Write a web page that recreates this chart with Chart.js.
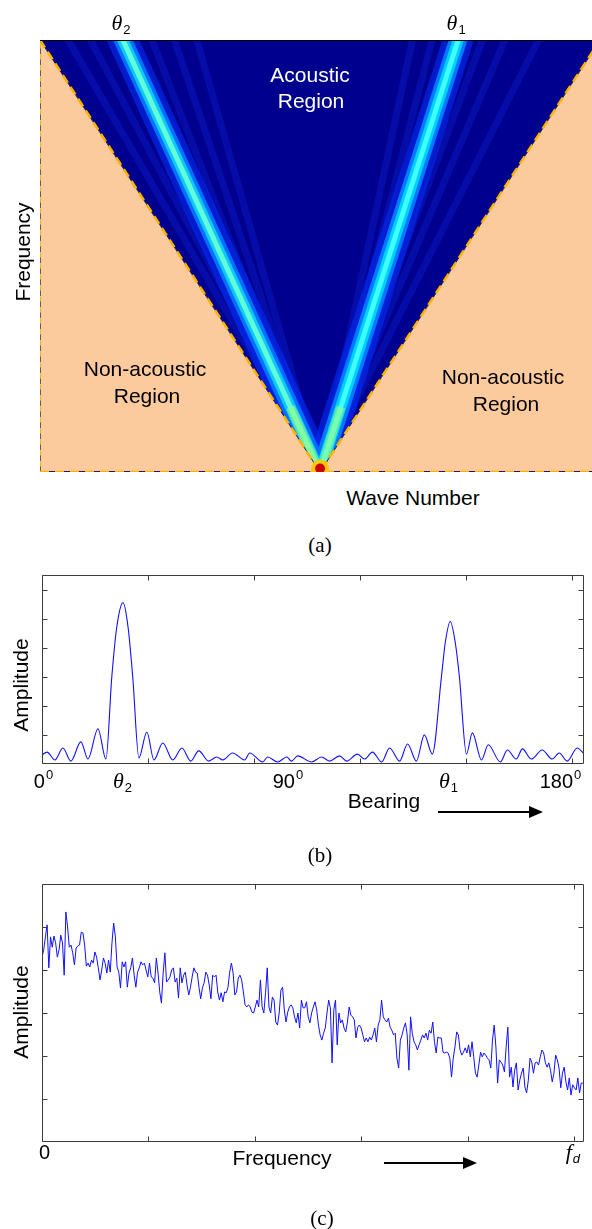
<!DOCTYPE html>
<html lang="en">
<head>
<meta charset="utf-8">
<title>Acoustic region, bearing and spectrum</title>
<script src="https://cdn.jsdelivr.net/npm/chart.js@4.4.1/dist/chart.umd.min.js"></script>
<style>
  html, body { margin: 0; padding: 0; background: #fff; }
  #figura { position: relative; width: 592px; height: 1229px; overflow: hidden;
    font-family: "Liberation Sans", Arial, sans-serif; color: #000; }
  canvas { position: absolute; left: 0; }
  .texto { position: absolute; font-size: 21px; line-height: 1; white-space: nowrap; transform: translate(-50%, -50%); }
  .blanco { color: #fff; }
  .vertical { transform: translate(-50%, -50%) rotate(-90deg); }
  .leyenda { font-family: "Liberation Serif", "Times New Roman", serif; }
  .flecha { position: absolute; height: 2px; background: #000; }
  .flecha::after { content: ""; position: absolute; left: 100%; top: -5px;
    border-left: 14px solid #000; border-top: 6px solid transparent; border-bottom: 6px solid transparent; }
</style>
</head>
<body>
<div id="figura">
  <canvas id="grafico-a" width="592" height="480" style="top:0"></canvas>
  <canvas id="grafico-b" width="592" height="235" style="top:560px"></canvas>
  <canvas id="grafico-c" width="592" height="330" style="top:860px"></canvas>

  <div class="texto blanco" style="left:310px;top:74px">Acoustic</div>
  <div class="texto blanco" style="left:311px;top:100px">Region</div>
  <div class="texto" style="left:145px;top:368px">Non-acoustic</div>
  <div class="texto" style="left:147px;top:395px">Region</div>
  <div class="texto" style="left:503px;top:376px">Non-acoustic</div>
  <div class="texto" style="left:506px;top:403px">Region</div>
  <div class="texto" style="left:413px;top:497px">Wave Number</div>
  <div class="texto vertical" style="left:22px;top:252px">Frequency</div>
  <div class="texto leyenda" style="left:320px;top:545px">(a)</div>

  <div class="texto vertical" style="left:20px;top:685px">Amplitude</div>
  <div class="texto" style="left:384px;top:800px">Bearing</div>
  <div class="flecha" style="left:438px;top:811px;width:91px"></div>
  <div class="texto leyenda" style="left:320px;top:855px">(b)</div>

  <div class="texto vertical" style="left:20px;top:1012px">Amplitude</div>
  <div class="texto" style="left:282px;top:1157px">Frequency</div>
  <div class="flecha" style="left:384px;top:1162px;width:79px"></div>
  <div class="texto leyenda" style="left:322px;top:1218px">(c)</div>
</div>

<script>
// --- (a) plano frecuencia / numero de onda ---
var conoK = [-1, 0, 1];
var conoF = [1, 0, 1];
var kMax = 0.971;
var hacesK = [-0.704, 0.493];           // numero de onda del haz en f = 1
var hacesEtiqueta = ['θ_2', 'θ_1'];
var lobulosK = [-0.90, -0.82, -0.60, -0.52, -0.44, 0.33, 0.40, 0.58, 0.66, 0.78];
var bordeIzqK = [-1, -1];
var bordeIzqF = [0, 1];
var bordeInfK = [-1, kMax];
var bordeInfF = [0, 0];
var bordeSupF = [1, 1];

// --- (b) patron de haz ---
var rumboGrados = [0, 1.7, 4.4, 7.1, 9.8, 13.2, 15.6, 19.0, 21.7, 23.7, 25.4, 27.5, 29.2, 30.8, 32.9,
  35.6, 38.0, 41.0, 44.4, 47.5, 50.5, 53.2, 56.6, 59.3, 61.4, 64.7, 68.8, 70.5, 74.9, 76.6,
  80.0, 83.1, 84.7, 86.8, 91.5, 94.9, 97.6, 101.0, 103.4, 107.1, 109.5, 112.2, 115.3, 118.0, 121.4,
  124.1, 127.1, 129.8, 132.5, 135.6, 136.9, 138.6, 140.3, 141.7, 144.1, 146.1, 149.2, 151.5, 155.6,
  158.0, 161.0, 163.1, 166.1, 169.8, 173.2, 175.6, 178.3, 181.7, 184.1];
var rumboAmplitud = [0.31, 0.41, 0.14, 0.55, 0.10, 0.76, 0.17, 1.21, 0.17, 3.00, 4.72, 5.55, 4.72, 3.00, 0.21,
  1.10, 0.14, 0.72, 0.14, 0.55, 0.10, 0.45, 0.10, 0.24, 0.14, 0.38, 0.14, 0.38, 0.07, 0.24,
  0.07, 0.24, 0.10, 0.28, 0.07, 0.24, 0.10, 0.28, 0.10, 0.34, 0.17, 0.41, 0.07, 0.55, 0.10,
  0.69, 0.10, 1.00, 0.34, 3.00, 4.17, 4.90, 4.17, 3.00, 0.34, 1.07, 0.14, 0.66, 0.07,
  0.48, 0.17, 0.52, 0.17, 0.48, 0.17, 0.38, 0.10, 0.55, 0.34];
var rumboTicks = [0, 36, 72, 108, 144, 180];
var rumboAmpTicks = [1, 2, 3, 4, 5, 6];
var rumboEtiquetas = ['0^0', 'θ_2', '90^0', 'θ_1', '180^0'];
var rumboPosEtiquetas = [0.5, 27.3, 83.5, 138, 176];

// --- (c) espectro ---
var espectroAmplitud = [
  4.30, 4.47, 4.77, 5.05, 4.05, 4.77, 4.53, 4.79, 4.63, 4.30,
  4.47, 4.81, 4.63, 3.88, 5.35, 5.00, 4.53, 4.58, 4.40, 4.12,
  4.51, 4.56, 4.58, 4.88, 4.86, 4.58, 4.09, 4.16, 4.07, 4.23,
  4.16, 4.42, 4.30, 4.05, 3.77, 4.00, 4.28, 4.16, 3.93, 4.23,
  3.95, 4.63, 5.09, 4.77, 4.07, 3.95, 3.58, 4.19, 4.07, 4.19,
  3.60, 3.93, 4.05, 4.28, 3.88, 3.60, 3.95, 4.05, 4.19, 4.12,
  4.16, 4.00, 3.84, 4.16, 3.84, 3.81, 3.70, 4.28, 3.93, 3.49,
  3.23, 3.93, 4.40, 3.72, 3.77, 3.84, 4.00, 4.05, 3.72, 3.81,
  3.35, 4.05, 3.70, 3.88, 3.95, 3.65, 3.42, 3.60, 3.84, 4.05,
  3.95, 3.93, 3.60, 3.33, 3.58, 3.70, 3.95, 3.88, 3.65, 3.33,
  3.88, 3.84, 3.88, 3.49, 3.30, 3.47, 3.26, 3.49, 3.47, 3.60,
  3.95, 4.16, 3.93, 3.42, 3.49, 3.81, 3.88, 3.77, 3.49, 3.19,
  3.14, 3.19, 3.14, 3.02, 3.00, 3.14, 3.30, 3.14, 3.77, 3.14,
  3.00, 3.47, 4.05, 3.14, 3.00, 3.37, 3.30, 2.79, 2.72, 3.00,
  3.53, 3.60, 3.07, 2.79, 3.02, 3.14, 3.19, 3.12, 2.91, 2.77,
  3.00, 2.65, 3.30, 3.12, 3.12, 3.26, 2.91, 2.77, 3.00, 3.14,
  3.26, 3.07, 2.72, 2.49, 2.37, 2.53, 2.65, 3.00, 3.30, 3.12,
  1.84, 3.07, 3.30, 2.26, 3.00, 2.77, 2.84, 2.65, 2.56, 2.79,
  3.14, 2.95, 2.91, 2.84, 2.42, 2.67, 2.72, 2.65, 2.49, 2.33,
  2.42, 2.33, 2.44, 2.37, 2.49, 2.65, 2.33, 2.72, 2.84, 3.30,
  2.91, 2.84, 2.79, 2.88, 2.67, 2.60, 2.49, 2.53, 1.95, 1.72,
  2.37, 2.49, 2.65, 2.77, 2.49, 1.67, 2.91, 2.53, 2.33, 2.26,
  2.14, 2.26, 2.37, 2.49, 2.42, 2.53, 2.37, 2.60, 2.53, 2.79,
  2.33, 2.07, 2.44, 2.42, 2.42, 2.09, 2.07, 2.09, 2.07, 1.95,
  1.51, 1.95, 2.21, 2.56, 2.49, 2.14, 2.02, 2.09, 2.19, 2.07,
  2.26, 1.98, 2.33, 1.98, 1.60, 1.51, 1.79, 2.09, 1.98, 2.07,
  2.02, 1.95, 1.91, 1.72, 2.37, 2.72, 2.21, 1.37, 1.91, 1.86,
  1.79, 1.63, 2.21, 2.67, 1.51, 1.74, 1.28, 1.67, 1.84, 1.21,
  1.44, 1.60, 1.72, 1.28, 1.14, 1.44, 1.95, 1.86, 1.60, 1.84,
  1.86, 1.79, 1.98, 2.14, 2.07, 1.84, 1.74, 1.84, 1.67, 1.40,
  1.60, 2.02, 1.91, 1.72, 1.26, 1.60, 1.74, 1.40, 1.21, 1.49,
  1.09, 1.33, 1.26, 1.21, 1.49, 1.14, 1.37, 1.37];
var espectroFrecFinal = 1.017;          // frecuencia del ultimo bin (f_d = 1)
var frecuenciaTicks = [0, 0.2, 0.4, 0.6, 0.8, 1.0];
var espectroAmpTicks = [1, 2, 3, 4, 5];
var frecuenciaEtiquetas = ['0', 'f_d'];
var frecuenciaPosEtiquetas = [0.005, 0.998];

function serie_(xs, ys) {
  return xs.map(function (x, i) { return { x: x, y: ys[i] }; });
}

// rayo desde el origen del cono hasta el numero de onda k (dado en f = 1)
function rayo_(k, f) {
  var fin = f || 1.06;
  return [{ x: 0, y: 0 }, { x: k * fin, y: fin }];
}

function dibujarEtiqueta_(ctx, texto, x, y, tamano) {
  var m = texto.match(/^([^\^_]+)([\^_]?)(.*)$/);
  var base = m[1], modo = m[2], extra = m[3];
  var griego = /[θf]/.test(base);
  var tamBase = griego ? tamano + 2 : tamano;
  var fuenteBase = griego ? 'italic ' + tamBase + 'px "Liberation Serif", serif'
                          : tamBase + 'px "Liberation Sans", Arial, sans-serif';
  var tamExtra = Math.round(tamano * 0.66);
  var fuenteExtra = (base === 'f' ? 'italic ' : '') + tamExtra + 'px "Liberation Sans", Arial, sans-serif';
  ctx.textBaseline = 'middle';
  ctx.textAlign = 'left';
  ctx.font = fuenteBase;
  var anchoBase = ctx.measureText(base).width;
  ctx.font = fuenteExtra;
  var anchoExtra = extra ? ctx.measureText(extra).width + 1 : 0;
  var x0 = x - (anchoBase + anchoExtra) / 2;
  ctx.font = fuenteBase;
  ctx.fillText(base, x0, y);
  if (extra) {
    ctx.font = fuenteExtra;
    ctx.fillText(extra, x0 + anchoBase + 1, modo === '^' ? y - tamBase * 0.33 : y + tamBase * 0.3);
  }
}

var etiquetasHaz = {
  id: 'etiquetasHaz',
  afterDraw: function (chart) {
    var ctx = chart.ctx, xS = chart.scales.x;
    ctx.save();
    ctx.fillStyle = '#000';
    hacesK.forEach(function (k, i) {
      dibujarEtiqueta_(ctx, hacesEtiqueta[i], xS.getPixelForValue(k) - 2, 24, 20);
    });
    ctx.restore();
  }
};

// caja con marcas hacia dentro en los cuatro lados
var cajaMatlab = {
  id: 'cajaMatlab',
  afterDatasetsDraw: function (chart, args, op) {
    var ctx = chart.ctx, area = chart.chartArea;
    var xS = chart.scales.x, yS = chart.scales.y;
    var l = Math.round(area.left) + 0.5, r = Math.round(area.right) - 0.5;
    var t = Math.round(area.top) + 0.5, b = Math.round(area.bottom) - 0.5;
    ctx.save();
    ctx.strokeStyle = '#3c3c3c';
    ctx.lineWidth = 1;
    ctx.beginPath();
    ctx.rect(l, t, r - l, b - t);
    op.ticksX.forEach(function (v) {
      var px = Math.round(xS.getPixelForValue(v)) + 0.5;
      ctx.moveTo(px, b); ctx.lineTo(px, b - op.largo);
      ctx.moveTo(px, t); ctx.lineTo(px, t + op.largo);
    });
    op.ticksY.forEach(function (v) {
      var py = Math.round(yS.getPixelForValue(v)) + 0.5;
      ctx.moveTo(l, py); ctx.lineTo(l + op.largo, py);
      ctx.moveTo(r, py); ctx.lineTo(r - op.largo, py);
    });
    ctx.stroke();
    ctx.fillStyle = '#000';
    op.etiquetas.forEach(function (txt, i) {
      dibujarEtiqueta_(ctx, txt, xS.getPixelForValue(op.posEtiquetas[i]), area.bottom + op.separacion, 20);
    });
    ctx.restore();
  }
};

function opcionesBase_(padding, xMin, xMax, yMax) {
  return {
    responsive: false,
    animation: false,
    layout: { padding: padding, autoPadding: false },
    scales: {
      x: { type: 'linear', min: xMin, max: xMax, display: false },
      y: { type: 'linear', min: 0, max: yMax, display: false }
    },
    elements: { point: { radius: 0, hoverRadius: 0 }, line: { tension: 0 } },
    plugins: { legend: { display: false }, tooltip: { enabled: false } }
  };
}

// ---------- grafico (a) ----------
(function () {
  var cono = serie_(conoK, conoF);
  var ds = [];
  ds.push({ data: cono, fill: 'end', backgroundColor: '#00008E', borderWidth: 0, order: 20 });
  lobulosK.forEach(function (k) {
    ds.push({ data: rayo_(k), borderColor: 'rgba(20,40,230,0.3)', borderWidth: 7, clip: 0, order: 19 });
  });
  var anchos = [30, 18, 11, 5];
  var coloresHaz = [
    ['rgba(0,50,255,0.55)', '#0070FF', '#10C8FF', '#60FFD8'],
    ['rgba(0,50,255,0.55)', '#0078FF', '#00D0FF', '#40FFF8']
  ];
  hacesK.forEach(function (k, h) {
    anchos.forEach(function (w, c) {
      ds.push({ data: rayo_(k), borderColor: coloresHaz[h][c], borderWidth: w, clip: 0, order: 18 - c });
    });
    ds.push({ data: rayo_(k, 0.15), borderColor: 'rgba(160,255,120,0.55)', borderWidth: 9, clip: 0, order: 13 });
  });
  ds.push({ data: cono, fill: 'start', backgroundColor: '#FCCB9D', borderWidth: 0, clip: 0, order: 10 });
  ds.push({ data: serie_(bordeIzqK, bordeIzqF), borderColor: '#111', borderWidth: 1.2, borderDash: [6, 5], order: 6 });
  ds.push({ data: serie_(bordeIzqK, bordeIzqF), borderColor: '#FFB300', borderWidth: 2, borderDash: [5, 6], borderDashOffset: 5.5, order: 5 });
  ds.push({ data: serie_(bordeInfK, bordeInfF), borderColor: '#1a1a70', borderWidth: 2, order: 6 });
  ds.push({ data: serie_(bordeInfK, bordeInfF), borderColor: '#FFB300', borderWidth: 2.5, borderDash: [9, 6], order: 5 });
  ds.push({ data: cono, borderColor: '#202050', borderWidth: 1, order: 6 });
  ds.push({ data: cono, borderColor: '#FFB300', borderWidth: 2.5, borderDash: [9, 5], order: 5 });
  ds.push({ data: serie_(bordeInfK, bordeSupF), borderColor: '#000', borderWidth: 2, order: 4 });
  ds.push({ data: [{ x: 0, y: 0.008 }], showLine: false, pointRadius: 9, pointBorderWidth: 0,
    pointBackgroundColor: 'rgba(255,200,0,0.9)', order: 3 });
  ds.push({ data: [{ x: 0, y: 0.008 }], showLine: false, pointRadius: 5, pointBorderWidth: 0,
    pointBackgroundColor: '#CC0000', order: 2 });

  new Chart(document.getElementById('grafico-a'), {
    type: 'line',
    data: { datasets: ds },
    options: opcionesBase_({ left: 40, top: 40, right: 0, bottom: 8 }, -1, kMax, 1),
    plugins: [etiquetasHaz]
  });
})();

// ---------- grafico (b) ----------
(function () {
  var op = opcionesBase_({ left: 42, top: 15, right: 8, bottom: 31 }, 0, 184, 6.5);
  op.plugins.cajaMatlab = { ticksX: rumboTicks, ticksY: rumboAmpTicks, etiquetas: rumboEtiquetas,
    posEtiquetas: rumboPosEtiquetas, separacion: 18, largo: 5 };
  new Chart(document.getElementById('grafico-b'), {
    type: 'line',
    data: { datasets: [{ data: serie_(rumboGrados, rumboAmplitud), borderColor: '#1010FF', borderWidth: 1.1,
      cubicInterpolationMode: 'monotone', clip: 0 }] },
    options: op,
    plugins: [cajaMatlab]
  });
})();

// ---------- grafico (c) ----------
(function () {
  var paso = espectroFrecFinal / (espectroAmplitud.length - 1);
  var puntos = espectroAmplitud.map(function (a, i) { return { x: i * paso, y: a }; });
  var op = opcionesBase_({ left: 42, top: 24, right: 8, bottom: 48 }, 0, 1.019, 6);
  op.plugins.cajaMatlab = { ticksX: frecuenciaTicks, ticksY: espectroAmpTicks, etiquetas: frecuenciaEtiquetas,
    posEtiquetas: frecuenciaPosEtiquetas, separacion: 11, largo: 5 };
  new Chart(document.getElementById('grafico-c'), {
    type: 'line',
    data: { datasets: [{ data: puntos, borderColor: '#1010FF', borderWidth: 1, clip: 0 }] },
    options: op,
    plugins: [cajaMatlab]
  });
})();
</script>
</body>
</html>
